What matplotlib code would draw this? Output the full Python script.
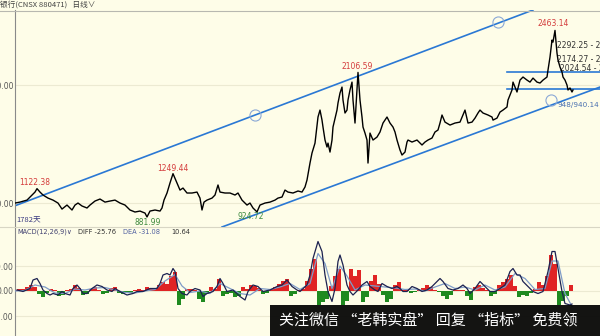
import numpy as np
import matplotlib
matplotlib.use("Agg")
import matplotlib.pyplot as plt
from matplotlib.patches import Rectangle
from matplotlib.lines import Line2D

CJK = ['Noto Sans CJK SC', 'DejaVu Sans']

# price line (bar position, close)
price_t = [
    0, 5, 12, 15, 20, 22, 25, 28, 33, 38,
    43, 47, 52, 57, 60, 63, 67, 72, 75, 80,
    85, 90, 95, 100, 105, 110, 115, 120, 125, 130,
    132, 135, 140, 145, 147, 149, 152, 155, 158, 162,
    165, 168, 172, 177, 182, 185, 187, 189, 192, 197,
    200, 203, 205, 210, 215, 220, 223, 227, 232, 235,
    238, 242, 245, 250, 255, 260, 263, 267, 270, 273,
    278, 283, 287, 290, 292, 295, 297, 300, 303, 305,
    307, 308, 310, 312, 313, 315, 317, 318, 322, 323,
    325, 327, 328, 330, 332, 333, 335, 337, 338, 340,
    342, 343, 345, 347, 348, 350, 352, 353, 355, 358,
    362, 365, 368, 372, 375, 378, 380, 382, 385, 387,
    390, 392, 393, 397, 402, 407, 410, 413, 417, 420,
    423, 425, 427, 430, 435, 440, 445, 448, 450, 453,
    457, 460, 463, 465, 468, 473, 477, 478, 482, 485,
    488, 492, 493, 497, 498, 500, 502, 505, 508, 512,
    515, 518, 522, 525, 528, 532, 533, 535, 537, 538,
    540, 542, 543, 545, 547, 548, 550, 552, 553, 555,
    557, 558]
price_close = [
    1000, 1008, 1025, 1051, 1093, 1122, 1093, 1068, 1042, 1025,
    1000, 949, 983, 941, 983, 1000, 975, 958, 983, 1017,
    1034, 1008, 1017, 1025, 1000, 983, 941, 924, 932, 915,
    882, 932, 941, 932, 958, 1025, 1085, 1170, 1249, 1170,
    1110, 1127, 1085, 1085, 1093, 1042, 941, 1008, 1025, 1042,
    1068, 1153, 1093, 1085, 1085, 1068, 1085, 1025, 983, 1000,
    958, 925, 983, 1000, 1008, 1025, 1042, 1051, 1110, 1093,
    1085, 1102, 1093, 1136, 1195, 1339, 1424, 1508, 1729, 1788,
    1703, 1644, 1534, 1475, 1508, 1432, 1534, 1644, 1788, 1848,
    1932, 1983, 1873, 1763, 1788, 1873, 1958, 2025, 1873, 1678,
    1958, 2107, 1873, 1729, 1644, 1593, 1534, 1339, 1593, 1534,
    1559, 1602, 1678, 1729, 1678, 1644, 1602, 1534, 1449, 1407,
    1432, 1517, 1534, 1517, 1534, 1492, 1517, 1534, 1551, 1602,
    1619, 1678, 1746, 1686, 1661, 1678, 1686, 1746, 1788, 1678,
    1686, 1720, 1763, 1788, 1763, 1746, 1729, 1703, 1720, 1771,
    1788, 1814, 1873, 1958, 2025, 1983, 1941, 2042, 2068, 2042,
    2025, 2059, 2025, 2017, 2042, 2068, 2127, 2237, 2381, 2364,
    2463, 2271, 2212, 2153, 2110, 2068, 2042, 2000, 1958, 1975,
    1941, 1958]

# trend channel and box lines
upper_t = [0, 518]
upper_p = [977, 2636]
lower_t = [207, 585]
lower_p = [797, 1983]
box_t = [492, 585]
box_top = 2110
box_bottom = 1966
circle_t = [240, 483, 536]
circle_p = [1746, 2534, 1873]

# MACD
diff_t = [
    2, 8, 15, 18, 22, 25, 28, 32, 35, 38, 43, 47, 50, 55, 58, 62, 65, 68, 72, 77,
    82, 87, 92, 97, 100, 105, 112, 118, 122, 128, 135, 142, 145, 148, 152, 155, 158, 160, 163, 167,
    172, 175, 180, 185, 188, 192, 198, 202, 205, 208, 212, 218, 225, 230, 233, 238, 243, 248, 255, 262,
    267, 272, 277, 282, 285,
    292, 295, 298, 303, 307, 310, 313, 317, 320, 323, 325, 328, 332, 335, 338, 343, 347, 352, 355, 360,
    363, 367, 372, 377, 382, 385, 388, 392, 397, 402, 407, 412, 417, 420, 425, 428, 433, 438, 443, 448,
    452, 455, 460, 465, 470, 475, 480, 485, 490, 495, 498, 502, 505, 508, 513, 518, 523, 528, 533, 537,
    540, 543, 547, 550, 555, 557]
diff_v = [
    2, -1, 5, 22, 25, 15, 2, -5, -8, -5, -8, -1, -5, -8, 5, 12, 5, -5, -5, 5,
    12, 9, 2, -1, 5, -1, -8, -5, -1, -1, 5, 5, 15, 32, 35, 32, 45, 39, 5, -5,
    -8, -1, 5, 2, -11, -5, -1, 9, 25, 15, -1, 2, -11, -18, -1, 12, 9, -1, 2, 9,
    12, 22, 9, 2, -1,
    12, 32, 65, 99, 79, 32, -1, -21, 5, 59, 72, 52, 12, -1, -8, 2, 12, 19, 9, 2,
    -1, 15, 9, 5, 9, 5, -1, -1, 9, 5, -1, 2, 9, 15, 25, 19, 5, 2, 5, 12,
    5, -5, 5, 19, 9, -1, -1, 5, 12, 39, 45, 32, 32, 19, 9, -1, -5, -1, 39, 79,
    79, 45, -1, -25, -28, -26]
dea_t = [0, 10, 20, 30, 40, 50, 60, 70, 80, 90, 100, 110, 120, 130, 140, 150, 160, 167, 175, 185,
         195, 205, 215, 225, 235, 245, 255, 265, 275, 285, 295, 303, 310, 317, 325, 332, 340, 350, 360, 370,
         380, 390, 400, 410, 420, 430, 440, 450, 460, 470, 480, 490, 500, 510, 520, 530, 537, 543, 550, 557]
dea_v = [0, 1, 12, 8, -4, -5, 4, 2, 6, 7, 2, -3, -4, 0, 3, 20, 33, 10, -3, 0,
         -5, 15, 5, -5, -8, 5, 3, 8, 15, 3, 15, 75, 55, 5, 50, 30, 2, 12, 10, 8,
         6, 3, 4, 0, 8, 15, 5, 8, 2, 12, 2, 8, 35, 25, 3, 5, 60, 60, -5, -31]
hist_v = [
    2, 4, 5, 8, 12, 9, -6, -11, -4, 4, 3, -10, -7, 3, 5, 12, 6, -8, -6, 5,
    8, 3, -5, -3, 6, 8, -3, -5, -4, -3, 3, 4, 2, 8, 6, 5, 12, 19, 14, 30,
    39, -28, -15, 4, 5, 3, -15, -21, -5, 8, 5, 25, -10, -6, -3, -12, -10, 8, 5, 12,
    10, 6, -5, -3, 4, 8, 15, 20, 25, -10, -6, 3, 5, 20, 45, 65, -28, -22, -15, 10,
    30, 45, -28, -20, 45, 30, 42, -21, -12, 20, 32, 15, -8, -21, -15, 12, 19, 3, 4, -3,
    -2, 2, 6, 12, 9, 3, -2, -10, -15, -8, 2, 3, 2, -10, -18, 8, 12, 6, 3, -10,
    -6, 12, 19, 25, 32, 10, -12, -8, -10, -4, 4, 19, 12, 30, 72, 55, -28, -20, -10, 12]
hist_t = np.arange(len(hist_v)) * 4

BG = '#fefde8'
BLUE = '#2a78d4'

W, H = 600, 336
fig = plt.figure(figsize=(6, 3.36), dpi=100, facecolor=BG)


def fx(px):
    return px / W


def fy(py):
    return 1 - py / H


ax = fig.add_axes([fx(15), fy(227), fx(585), (227 - 10) / H], facecolor=BG)
ax2 = fig.add_axes([fx(15), 0, fx(585), (336 - 227) / H], facecolor=BG)

for a in (ax, ax2):
    a.set_xlim(0, 585)
    for s in ('top', 'right', 'bottom'):
        a.spines[s].set_visible(False)
    a.spines['left'].set_color('#8a8a8a')
    a.spines['left'].set_linewidth(0.8)
    a.set_xticks([])
    a.tick_params(axis='y', length=0, pad=1, labelsize=5.5, labelcolor='#555555')

# main panel
ax.set_ylim(797, 2636)
ax.set_yticks([1000, 2000])
ax.set_yticklabels(['1000.00', '2000.00'])
for v in (1000, 2000):
    ax.axhline(v, color='#ecead2', lw=0.8, zorder=0)

ax.plot(upper_t, upper_p, color=BLUE, lw=1.2, zorder=2)
ax.plot(lower_t, lower_p, color=BLUE, lw=1.2, zorder=2)
ax.plot(box_t, [box_top, box_top], color=BLUE, lw=1.2, zorder=2)
ax.plot(box_t, [box_bottom, box_bottom], color=BLUE, lw=1.2, zorder=2)
ax.plot(circle_t, circle_p, 'o', ms=8, mfc='none', mec='#8aa8d6', mew=0.8, zorder=3)
ax.plot(price_t, price_close, color='black', lw=1.0, zorder=4)

RED = '#d43c3c'
GREEN = '#3e8a3e'
lab = dict(fontsize=5.5, ha='center', va='center', zorder=5)
ax.text(20, 1170, '1122.38', color=RED, **lab)
ax.text(158, 1297, '1249.44', color=RED, **lab)
ax.text(342, 2153, '2106.59', color=RED, **lab)
ax.text(538, 2525, '2463.14', color=RED, **lab)
ax.text(133, 839, '881.99', color=GREEN, **lab)
ax.text(236, 890, '924.72', color=GREEN, **lab)
ax.text(543, 1830, '948/940.14', color='#4a70b0', fontsize=5.2, ha='left', va='center')
ax.text(542, 2331, '2292.25 - 229', color='#333333', fontsize=5.5, ha='left', va='center', clip_on=True)
ax.text(542, 2220, '2174.27 - 21', color='#333333', fontsize=5.5, ha='left', va='center', clip_on=True)
ax.text(545, 2136, '2024.54 - 2', color='#333333', fontsize=5.5, ha='left', va='center', clip_on=True)
ax.text(1, 848, '1782天', color='#383880', fontsize=5.5, ha='left', va='center', family=CJK)

# MACD panel
ax2.set_ylim(-90, 128)
ax2.set_yticks([-50, 0, 50])
ax2.set_yticklabels(['-50.00', '0.00', '50.00'])
for v in (-50, 0, 50):
    ax2.axhline(v, color='#ecead2', lw=0.8, zorder=0)
hist_v = np.array(hist_v)
ax2.bar(hist_t, hist_v, width=3.6, color=np.where(hist_v >= 0, '#e02424', '#1f8a1f'), zorder=2)
ax2.plot(dea_t, dea_v, color='#7f9cc8', lw=0.9, zorder=3)
ax2.plot(diff_t, diff_v, color='#1c2250', lw=0.9, zorder=4)

hy = fy(232)
fig.text(fx(17), hy, 'MACD(12,26,9)∨', fontsize=4.8, color='#404070', va='center')
fig.text(fx(78), hy, 'DIFF -25.76', fontsize=4.8, color='#333333', va='center')
fig.text(fx(123), hy, 'DEA -31.08', fontsize=4.8, color='#5060a0', va='center')
fig.text(fx(171), hy, '10.64', fontsize=4.8, color='#333333', va='center')

# title bar
fig.text(fx(0), fy(5), '银行(CNSX 880471)   日线∨', fontsize=5.5, color='#444444',
         va='center', family=CJK)
fig.add_artist(Line2D([0, 1], [fy(10.5), fy(10.5)], color='#b8b8b0', lw=0.8))
fig.add_artist(Line2D([0, 1], [fy(227), fy(227)], color='#d8d6c4', lw=0.8))

# watermark banner
fig.add_artist(Rectangle((fx(270), 0), fx(330), (336 - 305) / H, facecolor='black',
                         edgecolor='none', alpha=0.92, zorder=10))
fig.text(fx(279), fy(320), '关注微信 “老韩实盘” 回复 “指标” 免费领', fontsize=10.8,
         color='white', va='center', family=CJK, zorder=11)

fig.savefig('out.png', dpi=100, facecolor=BG)
